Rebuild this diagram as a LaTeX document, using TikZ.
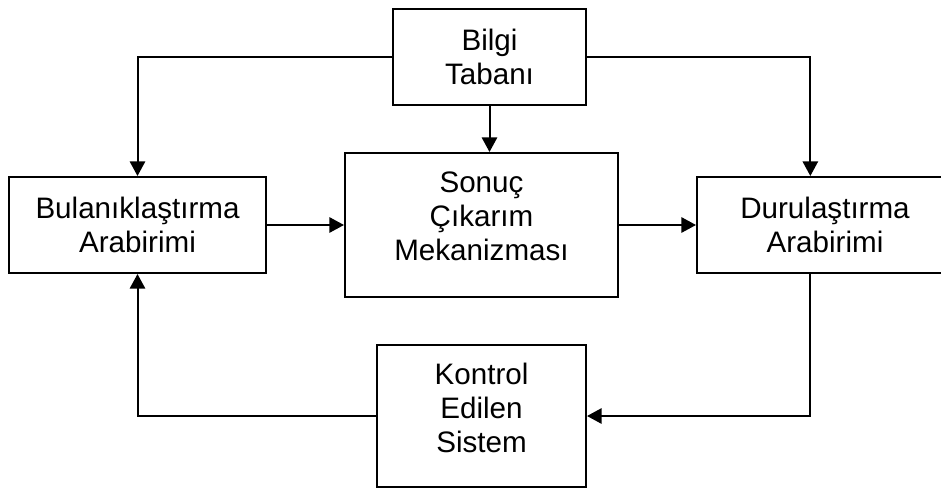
\documentclass[tikz,border=0pt]{standalone}
\usepackage{fontspec}
\setmainfont{Liberation Sans}
\usetikzlibrary{arrows.meta}

\tikzset{
  blok/.style={draw, line width=1.5pt, align=center, inner sep=0pt,
    font=\fontsize{22.2}{25.5}\selectfont},
  ucsatir/.style={blok, text depth=13pt},
  ok/.style={line width=1.5pt, -{Triangle[length=11pt,width=11.5pt]}}
}

\begin{document}
\begin{tikzpicture}[x=0.75pt,y=0.75pt,yscale=-1,xscale=1]
\useasboundingbox (0,0) rectangle (941,489);
\clip (0,0) rectangle (941,489);

%Shape: Rectangle [id:bilgi]
\node[blok, minimum width=144.75pt, minimum height=72pt] (bilgi) at (489.5,57) {Bilgi\\Tabanı};
%Shape: Rectangle [id:bulanik]
\node[blok, minimum width=192.75pt, minimum height=72pt] (bulanik) at (137.5,225) {Bulanıklaştırma\\Arabirimi};
%Shape: Rectangle [id:sonuc]
\node[ucsatir, minimum width=204.75pt, minimum height=108pt] (sonuc) at (481.5,225) {Sonuç\\Çıkarım\\Mekanizması};
%Shape: Rectangle [id:durul]
\node[blok, minimum width=192pt, minimum height=72pt] (durul) at (825,225) {Durulaştırma\\Arabirimi};
%Shape: Rectangle [id:kontrol]
\node[ucsatir, minimum width=156.75pt, minimum height=106.5pt] (kontrol) at (481.5,416) {Kontrol\\Edilen\\Sistem};

%Connectors
\draw[ok] (bilgi.west) -| (bulanik.north);
\draw[ok] (bilgi.east) -| ([xshift=-11pt]durul.north);
\draw[ok] (bilgi.south) -- (bilgi.south |- sonuc.north);
\draw[ok] (bulanik.east) -- (sonuc.west);
\draw[ok] (sonuc.east) -- (durul.west);
\draw[ok] ([xshift=-11.5pt]durul.south) |- (kontrol.east);
\draw[ok] (kontrol.west) -| (bulanik.south);

\end{tikzpicture}
\end{document}
